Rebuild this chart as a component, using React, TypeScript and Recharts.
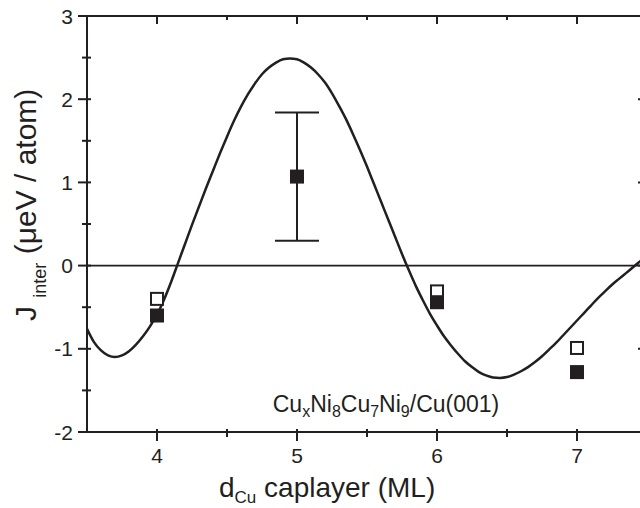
import React from 'react';
import {
  ComposedChart,
  Line,
  Scatter,
  XAxis,
  YAxis,
  ReferenceLine,
  ErrorBar,
  Label,
} from 'recharts';

const INK = '#231f20';
const FONT = '"Liberation Sans", Arial, Helvetica, sans-serif';

// Model curve: interlayer coupling vs. Cu cap thickness
const curveX = [
  3.5, 3.55, 3.6, 3.65, 3.7, 3.75, 3.8, 3.85, 3.9, 3.95,
  4.0, 4.05, 4.1, 4.15, 4.2, 4.25, 4.3, 4.35, 4.4, 4.45,
  4.5, 4.55, 4.6, 4.65, 4.7, 4.75, 4.8, 4.85, 4.9, 4.95,
  5.0, 5.05, 5.1, 5.15, 5.2, 5.25, 5.3, 5.35, 5.4, 5.45,
  5.5, 5.55, 5.6, 5.65, 5.7, 5.75, 5.8, 5.85, 5.9, 5.95,
  6.0, 6.05, 6.1, 6.15, 6.2, 6.25, 6.3, 6.35, 6.4, 6.45,
  6.5, 6.55, 6.6, 6.65, 6.7, 6.75, 6.8, 6.85, 6.9, 6.95,
  7.0, 7.05, 7.1, 7.15, 7.2, 7.25, 7.3, 7.35, 7.4, 7.45, 7.5,
];
const curveJ = [
  -0.76, -0.92, -1.02, -1.08, -1.1, -1.08, -1.03, -0.95, -0.85, -0.73,
  -0.59, -0.41, -0.2, 0.03, 0.26, 0.49, 0.71, 0.93, 1.14, 1.35,
  1.55, 1.74, 1.91, 2.06, 2.19, 2.3, 2.38, 2.44, 2.48, 2.49,
  2.48, 2.44, 2.38, 2.3, 2.2, 2.07, 1.92, 1.76, 1.58, 1.39,
  1.19, 0.98, 0.77, 0.56, 0.35, 0.14, -0.06, -0.25, -0.42, -0.58,
  -0.72, -0.85, -0.96, -1.06, -1.15, -1.22, -1.28, -1.32, -1.345, -1.35,
  -1.34, -1.31, -1.27, -1.22, -1.16, -1.09, -1.01, -0.93, -0.84, -0.75,
  -0.66, -0.57, -0.48, -0.39, -0.31, -0.23, -0.16, -0.09, -0.02, 0.05, 0.11,
];

// Measured values (open and filled symbols)
const openX = [4, 6, 7];
const openJ = [-0.4, -0.31, -0.99];
const filledX = [4, 6, 7];
const filledJ = [-0.6, -0.44, -1.28];
const barX = [5];
const barJ = [1.07];
const barErr = [0.77];

// Axis ticks
const xTicks = [4, 4.5, 5, 5.5, 6, 6.5, 7];
const yTicks = [-2, -1.5, -1, -0.5, 0, 0.5, 1, 1.5, 2, 2.5, 3];

const curveData = curveX.map((x, i) => ({ x, y: curveJ[i] }));
const openData = openX.map((x, i) => ({ x, y: openJ[i] }));
const filledData = filledX.map((x, i) => ({ x, y: filledJ[i] }));
const barData = barX.map((x, i) => ({ x, y: barJ[i], err: barErr[i] }));

const isMajor = (v: number) => Number.isInteger(v);

const BottomTick = (props: any) => {
  const { x, y, payload } = props;
  const major = isMajor(payload.value);
  return (
    <g>
      <line x1={x} x2={x} y1={y - 3} y2={y + (major ? 9 : 5)} stroke={INK} strokeWidth={2} />
      {major && (
        <text x={x} y={y + 31} textAnchor="middle" fontSize={21} fill={INK} fontFamily={FONT}>
          {payload.value}
        </text>
      )}
    </g>
  );
};

const TopTick = (props: any) => {
  const { x, y, payload } = props;
  const major = isMajor(payload.value);
  return <line x1={x} x2={x} y1={y} y2={y + (major ? 8 : 4)} stroke={INK} strokeWidth={2} />;
};

const LeftTick = (props: any) => {
  const { x, y, payload } = props;
  const major = isMajor(payload.value);
  return (
    <g>
      <line x1={x - (major ? 9 : 5)} x2={x + 4} y1={y} y2={y} stroke={INK} strokeWidth={2} />
      {major && (
        <text x={x - 14} y={y + 7.5} textAnchor="end" fontSize={21} fill={INK} fontFamily={FONT}>
          {payload.value}
        </text>
      )}
    </g>
  );
};

const RightTick = (props: any) => {
  const { x, y, payload } = props;
  const major = isMajor(payload.value);
  return <line x1={x - (major ? 9 : 5)} x2={x} y1={y} y2={y} stroke={INK} strokeWidth={2} />;
};

const OpenSquare = (props: any) => {
  const { cx, cy } = props;
  return <rect x={cx - 6} y={cy - 6} width={12} height={12} fill="#fff" stroke={INK} strokeWidth={2} />;
};

const FilledSquare = (props: any) => {
  const { cx, cy } = props;
  return <rect x={cx - 7} y={cy - 7} width={14} height={14} fill={INK} />;
};

const Titles = () => (
  <g fontFamily={FONT} fill={INK}>
    <text x={219} y={497} fontSize={28}>
      d<tspan fontSize={17} dy={6}>Cu</tspan>
      <tspan dy={-6}> caplayer (ML)</tspan>
    </text>
    <text transform="translate(36,321) rotate(-90)" fontSize={30}>
      J <tspan fontSize={18} dy={10}>inter</tspan>
      <tspan dy={-10}> (μeV / atom)</tspan>
    </text>
    <text x={386} y={412} textAnchor="middle" fontSize={23}>
      Cu<tspan fontSize={16} dy={5}>x</tspan>
      <tspan dy={-5}>Ni</tspan>
      <tspan fontSize={16} dy={5}>8</tspan>
      <tspan dy={-5}>Cu</tspan>
      <tspan fontSize={16} dy={5}>7</tspan>
      <tspan dy={-5}>Ni</tspan>
      <tspan fontSize={16} dy={5}>9</tspan>
      <tspan dy={-5}>/Cu(001)</tspan>
    </text>
  </g>
);

export default function App() {
  return (
    <div
      style={{
        position: 'absolute',
        left: 0,
        top: 0,
        width: 640,
        height: 508,
        overflow: 'hidden',
        background: '#fff',
      }}
    >
      <ComposedChart
        width={660}
        height={508}
        margin={{ top: 15, right: 12, bottom: 75, left: 86 }}
      >
        <XAxis
          xAxisId="bottom"
          dataKey="x"
          type="number"
          domain={[3.5, 7.5]}
          ticks={xTicks}
          interval={0}
          height={1}
          tickSize={0}
          tickMargin={0}
          tickLine={false}
          tick={<BottomTick />}
          axisLine={{ stroke: INK, strokeWidth: 2 }}
          allowDataOverflow
        >
          <Label content={() => <Titles />} />
        </XAxis>
        <XAxis
          xAxisId="top"
          orientation="top"
          dataKey="x"
          type="number"
          domain={[3.5, 7.5]}
          ticks={xTicks}
          interval={0}
          height={1}
          tickSize={0}
          tickMargin={0}
          tickLine={false}
          tick={<TopTick />}
          axisLine={{ stroke: INK, strokeWidth: 2 }}
          allowDataOverflow
        />
        <YAxis
          yAxisId="left"
          type="number"
          domain={[-2, 3]}
          ticks={yTicks}
          interval={0}
          width={1}
          tickSize={0}
          tickMargin={0}
          tickLine={false}
          tick={<LeftTick />}
          axisLine={{ stroke: INK, strokeWidth: 2 }}
          allowDataOverflow
        />
        <YAxis
          yAxisId="right"
          orientation="right"
          type="number"
          domain={[-2, 3]}
          ticks={yTicks}
          interval={0}
          width={1}
          tickSize={0}
          tickMargin={0}
          tickLine={false}
          tick={<RightTick />}
          axisLine={{ stroke: INK, strokeWidth: 2 }}
          allowDataOverflow
        />
        <ReferenceLine xAxisId="bottom" yAxisId="left" y={0} stroke={INK} strokeWidth={1.6} />
        <Line
          xAxisId="bottom"
          yAxisId="left"
          data={curveData}
          dataKey="y"
          type="monotone"
          stroke={INK}
          strokeWidth={2.5}
          dot={false}
          activeDot={false}
          isAnimationActive={false}
        />
        <Scatter
          xAxisId="bottom"
          yAxisId="left"
          data={openData}
          dataKey="y"
          shape={OpenSquare}
          isAnimationActive={false}
        />
        <Scatter
          xAxisId="bottom"
          yAxisId="left"
          data={filledData}
          dataKey="y"
          shape={FilledSquare}
          isAnimationActive={false}
        />
        <Scatter
          xAxisId="bottom"
          yAxisId="left"
          data={barData}
          dataKey="y"
          shape={FilledSquare}
          isAnimationActive={false}
        >
          <ErrorBar dataKey="err" direction="y" width={22} stroke={INK} strokeWidth={2} isAnimationActive={false} />
        </Scatter>
      </ComposedChart>
    </div>
  );
}
